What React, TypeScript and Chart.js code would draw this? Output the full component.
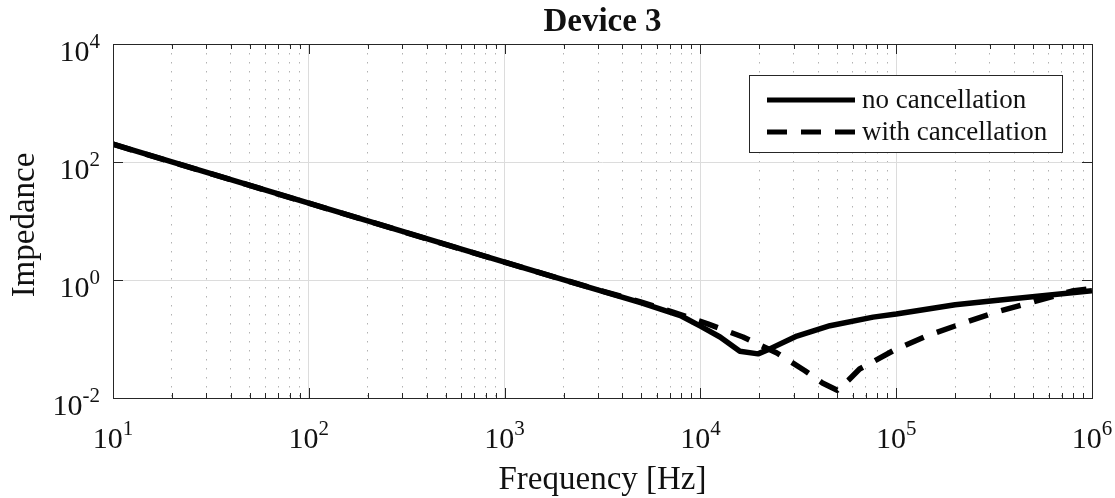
import React, { useEffect, useRef } from 'react';
import { Chart, registerables } from 'chart.js';

Chart.register(...registerables);

// ---- data ----
const freqNoCancel = [10, 100, 1000, 2400, 5000, 7900, 10000, 12600, 15900, 19700, 22600, 31100, 45900, 76200, 100000, 200000, 340000, 1000000];
const impNoCancel = [200, 20, 2, 0.84, 0.41, 0.25, 0.165, 0.108, 0.062, 0.056, 0.068, 0.112, 0.168, 0.235, 0.265, 0.38, 0.46, 0.66];

const freqWithCancel = [10, 100, 1000, 3000, 4900, 7240, 10900, 16500, 24600, 34200, 42000, 50000, 57000, 65000, 98700, 145000, 219000, 327000, 494000, 790000, 1000000];
const impWithCancel = [200, 20, 2, 0.68, 0.43, 0.285, 0.18, 0.108, 0.058, 0.029, 0.018, 0.0135, 0.02, 0.031, 0.066, 0.115, 0.185, 0.29, 0.42, 0.65, 0.72];

const seriesLabels = ['no cancellation', 'with cancellation'];
const xDecadeExponents = [1, 2, 3, 4, 5, 6];
const yDecadeExponents = [-2, 0, 2, 4];
const minorMultipliers = [2, 3, 4, 5, 6, 7, 8, 9];
const titleText = 'Device 3';
const xTitleText = 'Frequency [Hz]';
const yTitleText = 'Impedance';

const FONT = '"Liberation Serif", "Times New Roman", serif';
const AXIS_COLOR = '#262626';
const TEXT_COLOR = '#111111';

function drawPow(ctx: CanvasRenderingContext2D, exp: number, x: number, baseY: number, align: 'right' | 'center') {
  const main = '10';
  const sup = String(exp);
  ctx.font = `30px ${FONT}`;
  const wm = ctx.measureText(main).width;
  ctx.font = `21px ${FONT}`;
  const ws = ctx.measureText(sup).width;
  const total = wm + ws;
  const left = align === 'right' ? x - total : x - total / 2;
  ctx.textAlign = 'left';
  ctx.textBaseline = 'alphabetic';
  ctx.font = `30px ${FONT}`;
  ctx.fillText(main, left, baseY);
  ctx.font = `21px ${FONT}`;
  ctx.fillText(sup, left + wm, baseY - 13);
}

const decorPlugin = {
  id: 'decor',
  afterDatasetsDraw(chart: any) {
    const { ctx, chartArea: a, scales } = chart;
    const xs = scales.x;
    const ys = scales.y;
    const L = Math.round(a.left), R = Math.round(a.right), T = Math.round(a.top), B = Math.round(a.bottom);
    ctx.save();
    ctx.strokeStyle = AXIS_COLOR;
    ctx.lineWidth = 1;
    ctx.setLineDash([]);
    ctx.beginPath();
    for (const t of xs.ticks) {
      const px = Math.round(xs.getPixelForValue(t.value)) + 0.5;
      const len = t.major ? 10 : 5;
      ctx.moveTo(px, B); ctx.lineTo(px, B - len);
      ctx.moveTo(px, T); ctx.lineTo(px, T + len);
    }
    for (const t of ys.ticks) {
      const py = Math.round(ys.getPixelForValue(t.value)) + 0.5;
      ctx.moveTo(L, py); ctx.lineTo(L + 10, py);
      ctx.moveTo(R, py); ctx.lineTo(R - 10, py);
    }
    ctx.stroke();
    ctx.strokeRect(L + 0.5, T + 0.5, R - L, B - T);

    // legend box
    const lx = 749, ly = 75, lw = 313, lh = 77;
    ctx.fillStyle = '#ffffff';
    ctx.fillRect(lx, ly, lw, lh);
    ctx.strokeStyle = AXIS_COLOR;
    ctx.lineWidth = 1;
    ctx.strokeRect(lx + 0.5, ly + 0.5, lw, lh);
    const rows = [100, 132];
    chart.data.datasets.forEach((ds: any, i: number) => {
      ctx.save();
      ctx.strokeStyle = '#000000';
      ctx.lineWidth = 5;
      ctx.lineCap = 'butt';
      ctx.setLineDash(ds.borderDash || []);
      ctx.beginPath();
      ctx.moveTo(767, rows[i]);
      ctx.lineTo(855, rows[i]);
      ctx.stroke();
      ctx.restore();
      ctx.fillStyle = TEXT_COLOR;
      ctx.font = `27px ${FONT}`;
      ctx.textAlign = 'left';
      ctx.textBaseline = 'alphabetic';
      ctx.fillText(ds.label, 862, rows[i] + 8);
    });
    ctx.restore();
  },
  afterDraw(chart: any) {
    const { ctx, chartArea: a, scales } = chart;
    const xs = scales.x;
    const ys = scales.y;
    ctx.save();
    ctx.fillStyle = TEXT_COLOR;
    for (const t of ys.ticks) {
      const py = ys.getPixelForValue(t.value);
      drawPow(ctx, Math.round(Math.log10(t.value)), 100, py + 17, 'right');
    }
    for (const t of xs.ticks) {
      if (!t.major) continue;
      const px = xs.getPixelForValue(t.value);
      drawPow(ctx, Math.round(Math.log10(t.value)), px, a.bottom + 50, 'center');
    }
    const cx = (a.left + a.right) / 2;
    ctx.textAlign = 'center';
    ctx.textBaseline = 'alphabetic';
    ctx.font = `bold 33px ${FONT}`;
    ctx.fillText(titleText, cx, 31);
    ctx.font = `33px ${FONT}`;
    ctx.fillText(xTitleText, cx, 489);
    ctx.save();
    ctx.translate(34, (a.top + a.bottom) / 2 + 4);
    ctx.rotate(-Math.PI / 2);
    ctx.fillText(yTitleText, 0, 0);
    ctx.restore();
    ctx.restore();
  },
};

export default function App() {
  const canvasRef = useRef<HTMLCanvasElement | null>(null);

  useEffect(() => {
    const canvas = canvasRef.current;
    if (!canvas) return;
    const chart = new Chart(canvas, {
      type: 'line',
      data: {
        datasets: [
          {
            label: seriesLabels[0],
            data: freqNoCancel.map((f, i) => ({ x: f, y: impNoCancel[i] })),
            borderColor: '#000000',
            borderWidth: 5.5,
            pointRadius: 0,
            tension: 0,
            fill: false,
            borderJoinStyle: 'round',
            borderCapStyle: 'butt',
          },
          {
            label: seriesLabels[1],
            data: freqWithCancel.map((f, i) => ({ x: f, y: impWithCancel[i] })),
            borderColor: '#000000',
            borderWidth: 5.5,
            borderDash: [20, 14],
            pointRadius: 0,
            tension: 0,
            fill: false,
            borderJoinStyle: 'round',
            borderCapStyle: 'butt',
          },
        ],
      },
      options: {
        responsive: false,
        animation: false,
        devicePixelRatio: 1,
        events: [],
        layout: { padding: { left: 113, top: 44, right: 23, bottom: 100 } },
        plugins: {
          legend: { display: false },
          tooltip: { enabled: false },
          title: { display: false },
        },
        scales: {
          x: {
            type: 'logarithmic',
            min: 10,
            max: 1000000,
            ticks: { display: false },
            title: { display: false },
            border: {
              display: false,
              dash: (c: any) => (c.tick && !c.tick.major ? [1.5, 7.5] : []),
            },
            grid: {
              drawTicks: false,
              lineWidth: 1,
              color: (c: any) => (c.tick && c.tick.major ? '#dcdcdc' : 'rgba(0,0,0,0.3)'),
            },
            afterBuildTicks: (scale: any) => {
              const ticks: any[] = [];
              xDecadeExponents.forEach((e) => {
                ticks.push({ value: Math.pow(10, e), major: true });
                if (e < xDecadeExponents[xDecadeExponents.length - 1]) {
                  minorMultipliers.forEach((m) => ticks.push({ value: m * Math.pow(10, e), major: false }));
                }
              });
              scale.ticks = ticks;
            },
          },
          y: {
            type: 'logarithmic',
            min: 0.01,
            max: 10000,
            ticks: { display: false },
            title: { display: false },
            border: { display: false },
            grid: {
              drawTicks: false,
              lineWidth: 1,
              color: '#dcdcdc',
            },
            afterBuildTicks: (scale: any) => {
              scale.ticks = yDecadeExponents.map((e) => ({ value: Math.pow(10, e), major: true }));
            },
          },
        },
      },
      plugins: [decorPlugin],
    });
    return () => chart.destroy();
  }, []);

  return (
    <div style={{ position: 'fixed', left: 0, top: 0, width: 1115, height: 498, background: '#ffffff' }}>
      <canvas ref={canvasRef} width={1115} height={498} style={{ display: 'block', width: 1115, height: 498 }} />
    </div>
  );
}
